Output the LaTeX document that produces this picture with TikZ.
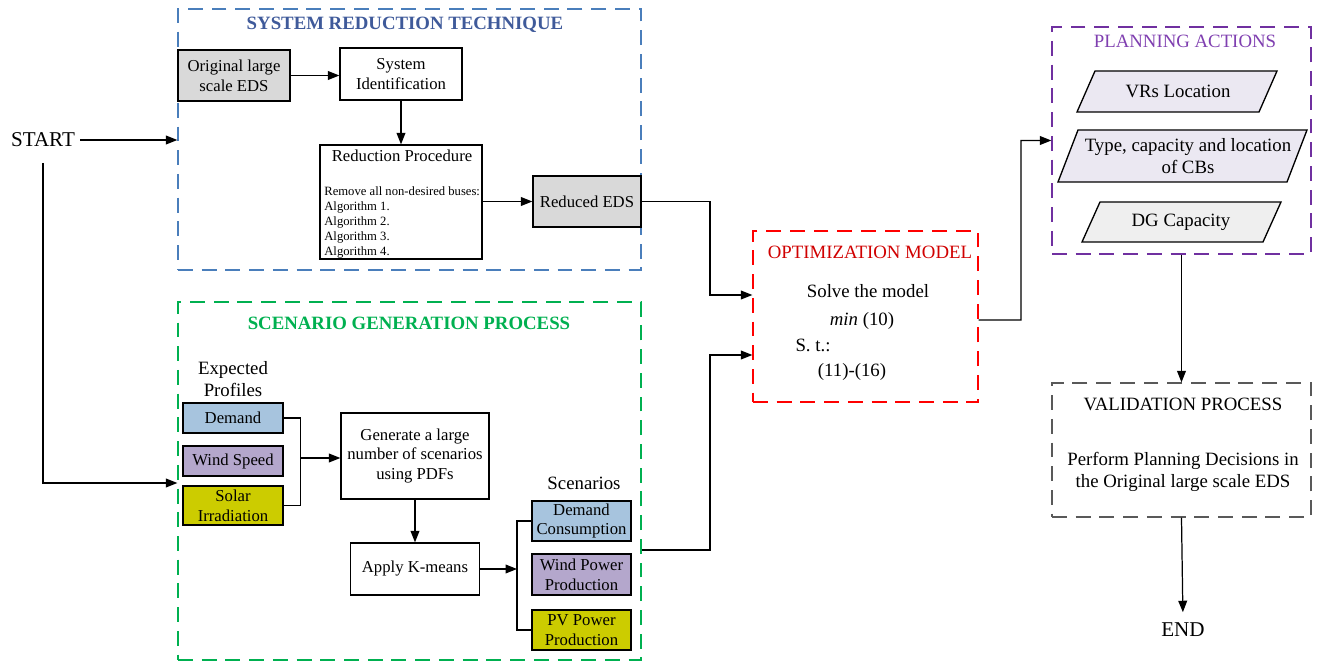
\documentclass[tikz,border=0pt]{standalone}
\usepackage{fontspec}
\setmainfont{Liberation Serif}
\usetikzlibrary{arrows.meta,calc}
\definecolor{bborder}{HTML}{4A7EBB}
\definecolor{btitle}{HTML}{3F5A9A}
\definecolor{gborder}{HTML}{00B050}
\definecolor{rborder}{HTML}{FF0000}
\definecolor{rtitle}{HTML}{D00000}
\definecolor{pborder}{HTML}{7030A0}
\definecolor{ptitle}{HTML}{7F3FB0}
\definecolor{vborder}{HTML}{595959}
\definecolor{grayfill}{HTML}{D9D9D9}
\definecolor{bluefill}{HTML}{A7C4DE}
\definecolor{purplefill}{HTML}{B4A7CC}
\definecolor{yellowfill}{HTML}{CCCC00}
\definecolor{lavfill}{HTML}{EBE8F2}
\definecolor{lgfill}{HTML}{EFEFEF}
\def\u{0.02cm}
\tikzset{
  every node/.style={font=\fontsize{9.5}{11.3}\selectfont, inner sep=1pt},
  big/.style={font=\fontsize{10.7}{12.6}\selectfont},
  huge/.style={font=\fontsize{12}{14}\selectfont},
  sbox/.style={draw=black, line width=0.75pt, align=center, inner sep=0pt},
  region/.style={draw, line width=0.75pt, dash pattern=on 8.5pt off 5pt, inner sep=0pt},
  arr/.style={line width=0.7pt, -{Triangle[length=6.5pt,width=5pt]}},
  ln/.style={line width=0.7pt},
  para/.style={draw=black, line width=0.75pt},
  rtitlefont/.style={font=\fontsize{10.7}{12.6}\selectfont\bfseries},
}
\begin{document}
\begin{tikzpicture}[x=0.02cm,y=-0.02cm]
\useasboundingbox (0,0) rectangle (1320,662);

% regions
\node[region, draw=bborder, minimum width=463*\u, minimum height=261*\u] (srt) at (409.5,139.5) {};
\node[rtitlefont, text=btitle] (srtt) at (405,25) {SYSTEM REDUCTION TECHNIQUE};
\node[region, draw=gborder, minimum width=463*\u, minimum height=358*\u] (sgp) at (409.5,481) {};
\node[rtitlefont, text=gborder] (sgpt) at (409,323) {SCENARIO GENERATION PROCESS};
\node[region, draw=rborder, minimum width=225*\u, minimum height=171*\u] (opt) at (865.5,316.5) {};
\node[big, text=rtitle] (optt) at (870,252) {OPTIMIZATION MODEL};
\node[region, draw=pborder, minimum width=259*\u, minimum height=227*\u] (plan) at (1181.5,140.5) {};
\node[big, text=ptitle] (plant) at (1185,41) {PLANNING ACTIONS};
\node[region, draw=vborder, minimum width=259*\u, minimum height=134*\u] (val) at (1181.5,450) {};
\node[big] (valt) at (1183,404) {VALIDATION PROCESS};
\node[big, align=center] (valx) at (1183,472) {Perform Planning Decisions in\\the Original large scale EDS};

% START / END
\node[huge] (start) at (43,140) {START};
\coordinate (s1) at (43,163);
\node[huge] (endn) at (1183,630) {END};

% system reduction
\node[sbox, fill=grayfill, minimum width=112*\u, minimum height=51*\u] (orig) at (234,75.5) {Original large\\scale EDS};
\node[sbox, minimum width=122*\u, minimum height=52*\u] (sysid) at (401,74) {System\\Identification};
\node[sbox, minimum width=162*\u, minimum height=114*\u] (redp) at (401,202) {};
\node (redpt) at (402,156) {Reduction Procedure};
\node[anchor=north west, align=left, inner sep=0pt, font=\fontsize{7.2}{8.6}\selectfont] (redpl) at (324,186)
  {Remove all non-desired buses:\\Algorithm 1.\\Algorithm 2.\\Algorithm 3.\\Algorithm 4.};
\node[sbox, fill=grayfill, minimum width=108*\u, minimum height=51*\u] (reduced) at (587,201.5) {Reduced EDS};

% scenario generation
\node[big, align=center] (expp) at (233,379) {Expected\\Profiles};
\node[sbox, fill=bluefill, minimum width=100*\u, minimum height=30*\u] (dem) at (233,418) {Demand};
\node[sbox, fill=purplefill, minimum width=100*\u, minimum height=30*\u] (wind) at (233,461) {Wind Speed};
\node[sbox, fill=yellowfill, minimum width=100*\u, minimum height=39*\u] (solar) at (233,505.5) {Solar\\Irradiation};
\node[sbox, minimum width=148*\u, minimum height=86*\u] (gen) at (415,456) {Generate a large\\number of scenarios\\using PDFs};
\node[sbox, minimum width=129*\u, minimum height=52*\u] (apply) at (415,569) {Apply K-means};
\node[big] (scen) at (584,483) {Scenarios};
\node[sbox, fill=bluefill, minimum width=99*\u, minimum height=40*\u] (dcons) at (581.5,521) {Demand\\Consumption};
\node[sbox, fill=purplefill, minimum width=99*\u, minimum height=41*\u] (wpp) at (581.5,574.5) {Wind Power\\Production};
\node[sbox, fill=yellowfill, minimum width=99*\u, minimum height=40*\u] (pvp) at (581.5,630) {PV Power\\Production};
\coordinate (bk1) at (300,458);
\coordinate (bk2) at (517,569);

% optimization text
\node[big] (opt1) at (868,291) {Solve the model};
\node[big] (opt2) at (862,321) {\textit{min} (10)};
\node[big] (opt3) at (813,345) {S. t.:};
\node[big] (opt4) at (852,372) {(11)-(16)};

% planning actions
\draw[para, fill=lavfill] (1077,112) -- (1095,71) -- (1277,71) -- (1259,112) -- cycle;
\node[big] (vrs) at (1178,91.5) {VRs Location};
\draw[para, fill=lavfill] (1058,182) -- (1078,130) -- (1307,130) -- (1287,182) -- cycle;
\node[big, align=center] (cbs) at (1188,156) {Type, capacity and location\\of CBs};
\draw[para, fill=lgfill] (1082,242) -- (1100,202) -- (1281,202) -- (1263,242) -- cycle;
\node[big] (dg) at (1181,222) {DG Capacity};

% connectors
\draw[arr] (start.east) ++(3,0) -- (start.east -| srt.west);
\draw[arr] (s1) |- ($(sgp.west)+(0,2)$);
\draw[arr] (orig.east) -- (orig.east -| sysid.west);
\draw[arr] (sysid.south) -- (sysid.south |- redp.north);
\draw[arr] (redp.east |- reduced.west) -- (reduced.west);
\draw[arr] (reduced.east) -- (710,201.5) |- ($(opt.west)+(0,-21.5)$);
\draw[ln] (dem.east) -- ++(17,0) |- (solar.east);
\draw[arr] (bk1) -- (bk1 -| gen.west);
\draw[arr] (gen.south) -- (apply.north);
\draw[arr] (apply.east) -- (bk2);
\draw[ln] (dcons.west) -| (bk2) |- (pvp.west);
\draw[arr] ($(sgp.east)+(0,69)$) -- (710,550) |- ($(opt.west)+(0,38.5)$);
\draw[arr] ($(opt.east)+(0,3.5)$) -- (1021,320) |- (plan.west);
\draw[arr] (plan.south) -- (val.north);
\draw[arr, shorten >=5pt] (val.south) -- (endn.north);
\end{tikzpicture}
\end{document}
